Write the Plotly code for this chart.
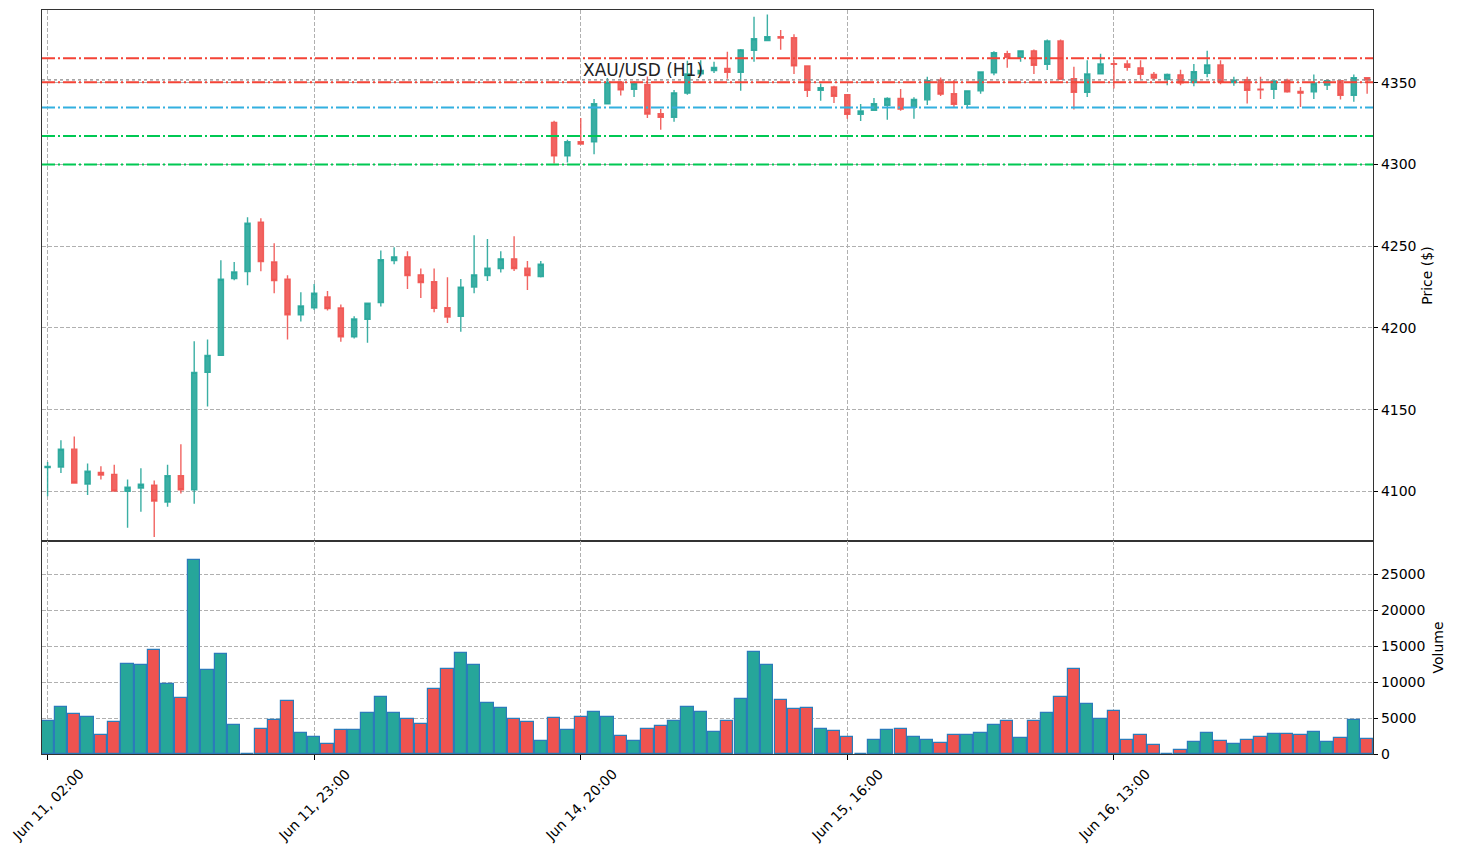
import plotly.graph_objects as go

# ---------------- data ----------------
open_ = [4114.5, 4114.9, 4125.8, 4104.5, 4111.6, 4110.4, 4100.0, 4102.0, 4103.7, 4093.5,
         4109.6, 4101.0, 4172.8, 4183.2, 4230.2, 4234.5, 4264.7, 4240.4, 4229.8, 4208.1,
         4212.4, 4219.0, 4212.2, 4194.6, 4205.3, 4215.6, 4241.3, 4243.5, 4232.5, 4228.3,
         4212.4, 4207.1, 4225.0, 4232.1, 4236.4, 4242.3, 4236.6, 4231.5, 4325.8, 4305.3,
         4314.0, 4314.0, 4337.2, 4350.4, 4346.1, 4349.0, 4331.1, 4329.0, 4343.7, 4355.5,
         4357.6, 4358.8, 4356.5, 4370.0, 4375.9, 4378.2, 4377.6, 4360.4, 4345.5, 4347.5,
         4342.8, 4330.8, 4333.2, 4336.3, 4340.4, 4335.1, 4339.6, 4351.8, 4343.3, 4336.9,
         4345.1, 4356.1, 4367.8, 4365.7, 4369.6, 4361.4, 4375.7, 4352.5, 4344.3, 4355.5,
         4361.8, 4361.6, 4359.2, 4355.1, 4352.2, 4354.9, 4350.2, 4355.9, 4361.0, 4350.2,
         4352.0, 4346.1, 4346.1, 4351.6, 4344.7, 4344.5, 4348.6, 4351.4, 4342.4, 4353.1]
high = [4118.0, 4131.3, 4133.5, 4117.0, 4115.3, 4116.3, 4107.2, 4114.1, 4106.7, 4116.3,
        4128.8, 4191.8, 4193.0, 4241.4, 4240.4, 4267.8, 4267.2, 4251.8, 4232.2, 4221.8,
        4226.9, 4222.6, 4214.4, 4207.1, 4215.1, 4247.4, 4249.4, 4247.0, 4236.4, 4236.4,
        4231.1, 4229.9, 4256.7, 4254.5, 4247.0, 4256.1, 4240.9, 4240.9, 4326.8, 4315.2,
        4328.5, 4340.2, 4353.0, 4351.0, 4351.0, 4353.9, 4334.0, 4345.7, 4363.6, 4363.9,
        4362.9, 4369.0, 4370.8, 4390.4, 4391.9, 4382.3, 4379.8, 4360.4, 4349.6, 4348.2,
        4342.8, 4337.1, 4340.8, 4341.2, 4346.3, 4341.2, 4353.7, 4353.3, 4351.8, 4345.1,
        4356.7, 4369.4, 4369.6, 4369.6, 4370.4, 4376.6, 4376.6, 4359.8, 4363.9, 4367.8,
        4363.9, 4363.9, 4363.9, 4356.7, 4355.7, 4358.0, 4361.6, 4369.6, 4363.9, 4353.7,
        4353.7, 4353.7, 4351.2, 4352.5, 4347.5, 4355.1, 4352.0, 4351.4, 4355.1, 4353.1]
low = [4097.0, 4111.2, 4105.0, 4097.8, 4107.2, 4100.0, 4077.7, 4087.5, 4072.0, 4090.6,
       4098.6, 4092.4, 4151.9, 4183.0, 4229.2, 4226.1, 4234.7, 4221.2, 4193.0, 4204.0,
       4211.0, 4210.6, 4191.6, 4193.6, 4191.0, 4213.2, 4239.0, 4223.8, 4218.3, 4209.6,
       4203.0, 4197.6, 4221.3, 4228.7, 4234.0, 4234.8, 4223.2, 4230.9, 4300.6, 4301.2,
       4312.6, 4306.3, 4337.0, 4342.3, 4341.3, 4328.5, 4321.3, 4326.2, 4342.7, 4354.0,
       4356.1, 4352.5, 4345.1, 4362.9, 4375.7, 4370.2, 4355.5, 4341.4, 4339.0, 4337.7,
       4328.1, 4326.7, 4333.0, 4327.5, 4333.0, 4328.0, 4336.5, 4342.0, 4335.3, 4334.3,
       4343.3, 4354.7, 4359.2, 4362.9, 4355.5, 4357.8, 4352.2, 4333.7, 4341.4, 4355.3,
       4346.5, 4357.4, 4352.2, 4351.6, 4348.6, 4348.6, 4348.0, 4353.5, 4349.2, 4348.2,
       4337.3, 4340.2, 4340.2, 4343.9, 4335.3, 4340.2, 4345.7, 4339.8, 4338.4, 4343.3]
close = [4115.2, 4125.8, 4105.1, 4112.3, 4110.0, 4100.2, 4102.5, 4104.3, 4094.1, 4109.6,
         4101.0, 4172.8, 4183.2, 4229.8, 4234.3, 4264.1, 4240.6, 4229.0, 4208.1, 4213.4,
         4221.2, 4211.8, 4194.6, 4205.5, 4215.1, 4241.7, 4243.5, 4232.1, 4227.8, 4212.0,
         4206.7, 4225.0, 4232.5, 4236.6, 4242.3, 4236.4, 4232.1, 4239.0, 4305.3, 4314.0,
         4312.6, 4337.2, 4350.4, 4345.7, 4349.6, 4330.9, 4329.0, 4343.9, 4355.5, 4357.6,
         4359.4, 4356.5, 4370.2, 4377.0, 4378.2, 4377.4, 4360.4, 4345.5, 4347.1, 4341.8,
         4330.8, 4332.8, 4337.3, 4340.4, 4333.9, 4339.8, 4351.4, 4343.1, 4336.9, 4345.1,
         4356.7, 4368.4, 4365.7, 4369.6, 4360.8, 4375.7, 4352.2, 4344.3, 4355.5, 4361.6,
         4361.4, 4359.6, 4355.3, 4352.9, 4355.1, 4350.0, 4356.9, 4361.0, 4350.6, 4351.6,
         4345.5, 4345.7, 4351.2, 4344.5, 4343.7, 4349.6, 4351.4, 4342.4, 4353.1, 4351.8]
volume = [4630, 6530, 5560, 5140, 2640, 4440, 12550, 12360, 14440, 9720,
          7780, 26990, 11670, 13890, 4030, 0, 3470, 4720, 7360, 2920,
          2360, 1390, 3330, 3330, 5690, 7920, 5690, 4860, 4170, 9030,
          11800, 14030, 12360, 7080, 6390, 4860, 4440, 1810, 5000, 3330,
          5140, 5830, 5140, 2500, 1810, 3470, 3890, 4580, 6530, 5830,
          3060, 4580, 7640, 14170, 12360, 7500, 6250, 6390, 3470, 3190,
          2360, 0, 1940, 3330, 3470, 2360, 1940, 1530, 2640, 2640,
          2920, 4030, 4580, 2220, 4580, 5690, 7920, 11800, 6940, 4910,
          5970, 1940, 2640, 1250, 0, 560, 1670, 2920, 1810, 1390,
          1940, 2360, 2780, 2780, 2640, 3060, 1670, 2220, 4770, 2080]

tick_index = [0, 20, 40, 60, 80]
tick_labels = ["Jun 11, 02:00", "Jun 11, 23:00", "Jun 14, 20:00", "Jun 15, 16:00", "Jun 16, 13:00"]
price_ticks = [4100, 4150, 4200, 4250, 4300, 4350]
volume_ticks = [0, 5000, 10000, 15000, 20000, 25000]

resistance_levels = [4365.0, 4350.4]
pivot_level = [4335.0]
support_levels = [4317.5, 4300.0]
title_text = "XAU/USD (H1)"

# ---------------- styling ----------------
UP = "#26a69a"
DOWN = "#ef5350"
UP_C = "rgba(38,166,154,0.9)"
DOWN_C = "rgba(239,83,80,0.9)"
FONT = "DejaVu Sans"
GRID = "#b0b0b0"

idx = list(range(len(close)))
vol_colors = [UP if c >= o else DOWN for o, c in zip(open_, close)]

fig = go.Figure()

fig.add_trace(go.Candlestick(
    x=idx, open=open_, high=high, low=low, close=close,
    increasing=dict(line=dict(color=UP_C, width=1.4), fillcolor=UP_C),
    decreasing=dict(line=dict(color=DOWN_C, width=1.4), fillcolor=DOWN_C),
    whiskerwidth=0, xaxis="x", yaxis="y", showlegend=False,
))

fig.add_trace(go.Bar(
    x=idx, y=volume, width=0.92,
    marker=dict(color=vol_colors, line=dict(color="#2b7bba", width=1.2)),
    xaxis="x2", yaxis="y2", showlegend=False,
))

dashdot = "13px,3px,2px,3px"
shapes = []
for lvl in resistance_levels:
    shapes.append(dict(type="line", xref="x domain", yref="y", x0=0, x1=1, y0=lvl, y1=lvl,
                       line=dict(color="#f44336", width=2, dash=dashdot), layer="above"))
for lvl in pivot_level:
    shapes.append(dict(type="line", xref="x domain", yref="y", x0=0, x1=1, y0=lvl, y1=lvl,
                       line=dict(color="#33b0e0", width=2, dash=dashdot), layer="above"))
for lvl in support_levels:
    shapes.append(dict(type="line", xref="x domain", yref="y", x0=0, x1=1, y0=lvl, y1=lvl,
                       line=dict(color="#00c853", width=2, dash=dashdot), layer="above"))
# last price line
shapes.append(dict(type="line", xref="x domain", yref="y", x0=0, x1=1, y0=close[-1], y1=close[-1],
                   line=dict(color="#888888", width=1.2, dash="dot"), layer="above"))

XR = [-0.42, 99.44]
split = 0.2863
axis_common = dict(showline=True, mirror=True, linecolor="#333333", linewidth=1.2,
                   showgrid=True, gridcolor=GRID, griddash="4px,2px", gridwidth=1,
                   zeroline=False, automargin=False)

# rotated date labels centred under their ticks (as matplotlib does)
annotations = [dict(text=title_text, xref="paper", yref="paper", x=0.4512, y=0.9194,
                    xanchor="center", yanchor="middle", showarrow=False,
                    font=dict(family=FONT, size=17, color="#222222"))]
for t, lab in zip(tick_index, tick_labels):
    annotations.append(dict(text=lab, xref="x2", yref="paper", x=t, y=-0.0125,
                            xanchor="center", yanchor="top", textangle=-45, showarrow=False,
                            font=dict(family=FONT, size=14, color="#000000")))

fig.update_layout(
    width=1457, height=849,
    margin=dict(l=42, r=84, t=10, b=95),
    paper_bgcolor="white", plot_bgcolor="white",
    font=dict(family=FONT, size=14, color="#000000"),
    boxgap=0.45,
    bargap=0,
    shapes=shapes,
    xaxis=dict(domain=[0, 1], anchor="y", range=XR, tickmode="array", tickvals=tick_index,
               showticklabels=False, ticks="", rangeslider=dict(visible=False), **axis_common),
    yaxis=dict(domain=[split, 1], anchor="x", side="right", range=[4069.6, 4394.6],
               tickmode="array", tickvals=price_ticks, ticktext=[str(v) for v in price_ticks],
               ticks="outside", ticklen=4, tickcolor="#000",
               title=dict(text="Price ($)", standoff=6, font=dict(size=14)), **axis_common),
    xaxis2=dict(domain=[0, 1], anchor="y2", range=XR, matches="x", tickmode="array",
                tickvals=tick_index, showticklabels=False,
                ticks="outside", ticklen=5, tickcolor="#000", **axis_common),
    yaxis2=dict(domain=[0, split], anchor="x2", side="right", range=[0, 29650],
                tickmode="array", tickvals=volume_ticks, ticktext=[str(v) for v in volume_ticks],
                ticks="outside", ticklen=4, tickcolor="#000",
                title=dict(text="Volume", standoff=8, font=dict(size=14)), **axis_common),
    annotations=annotations,
)

fig.write_html("out.html")
